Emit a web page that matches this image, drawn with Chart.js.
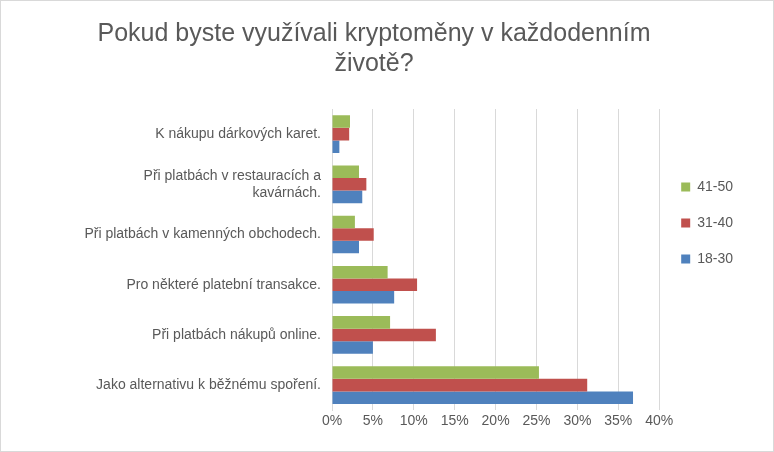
<!DOCTYPE html>
<html>
<head>
<meta charset="utf-8">
<script src="https://cdn.jsdelivr.net/npm/chart.js@4"></script>
<style>
  body { margin: 0; background: #fff; }
  #wrap { width: 772px; height: 450px; border: 1px solid #d9d9d9; position: relative; }
</style>
</head>
<body>
<div id="wrap"><canvas id="chart"></canvas></div>
<script>
const categories = [
    'K nákupu dárkových karet.',
    ['Při platbách v restauracích a', 'kavárnách.'],
    'Při platbách v kamenných obchodech.',
    'Pro některé platební transakce.',
    'Při platbách nákupů online.',
    'Jako alternativu k běžnému spoření.'
];
const age4150 = [2.2, 3.3, 2.8, 6.8, 7.1, 25.3];
const age3140 = [2.1, 4.2, 5.1, 10.4, 12.7, 31.2];
const age1830 = [0.9, 3.7, 3.3, 7.6, 5.0, 36.8];
const xTicks = [0, 5, 10, 15, 20, 25, 30, 35, 40];

const labelFont = { family: '"Liberation Sans", sans-serif', size: 14 };

const ctx = document.getElementById('chart').getContext('2d');
new Chart(ctx, {
    type: 'bar',
    data: {
        labels: categories,
        datasets: [
            { label: '41-50', data: age4150, backgroundColor: '#9BBB59' },
            { label: '31-40', data: age3140, backgroundColor: '#C0504D' },
            { label: '18-30', data: age1830, backgroundColor: '#4F81BD' }
        ]
    },
    options: {
        indexAxis: 'y',
        responsive: true,
        maintainAspectRatio: false,
        animation: false,
        layout: { padding: { left: 4, right: 30, top: 12, bottom: 18 } },
        datasets: { bar: { categoryPercentage: 0.75, barPercentage: 1 } },
        plugins: {
            title: {
                display: true,
                text: ['Pokud byste využívali kryptoměny v každodenním', 'životě?'],
                color: '#595959',
                font: { family: '"Liberation Sans", sans-serif', size: 25, weight: 'normal' },
                padding: { top: 6, bottom: 30 }
            },
            legend: {
                position: 'right',
                labels: {
                    boxWidth: 9, boxHeight: 9, padding: 22,
                    color: '#595959',
                    font: labelFont
                }
            },
            tooltip: { enabled: false }
        },
        scales: {
            x: {
                min: 0, max: 40,
                afterBuildTicks: axis => { axis.ticks = xTicks.map(v => ({ value: v })); },
                ticks: { callback: v => v + '%', color: '#595959', font: labelFont },
                grid: { color: '#d9d9d9', drawTicks: false },
                border: { display: false }
            },
            y: {
                afterFit: axis => { axis.width = 327; },
                ticks: { color: '#595959', font: labelFont },
                grid: { display: false },
                border: { color: '#d9d9d9' }
            }
        }
    }
});
</script>
</body>
</html>
